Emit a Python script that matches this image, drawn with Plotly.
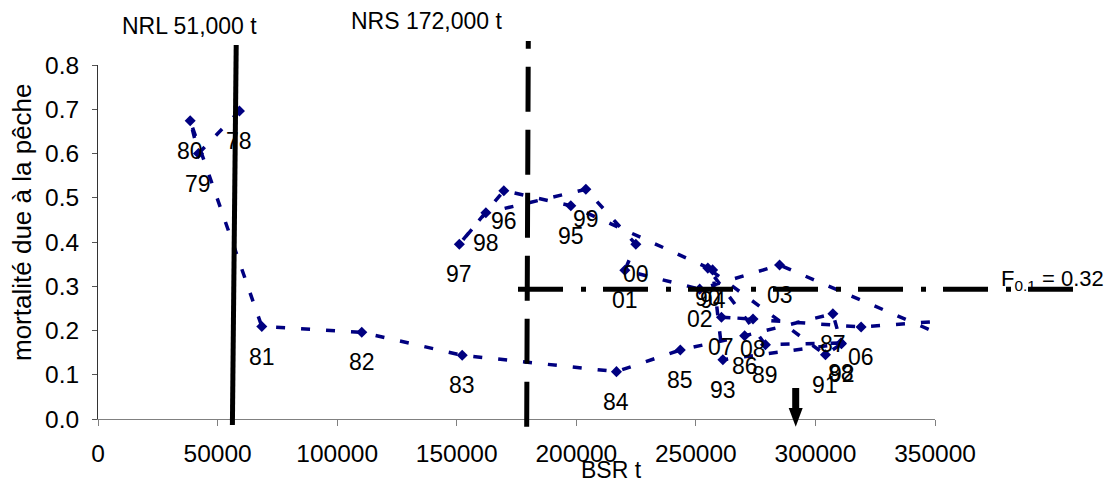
import plotly.graph_objects as go

# ---- data ----
years = ["78", "79", "80", "81", "82", "83", "84", "85", "86", "87", "88",
         "89", "90", "91", "92", "93", "94", "95", "96", "97", "98", "99",
         "00", "01", "02", "03", "04", "05", "06", "07", "08"]
bsr = [59150, 42000, 38550, 68500, 110300, 152300, 216800, 243500, 270400,
       307300, 310700, 279100, 255000, 304200, 310900, 261300, 257000,
       197700, 169700, 151100, 162200, 204000, 224900, 220300, 251600,
       285000, 370000, 400000, 319100, 260700, 273900]
f_mort = [0.696, 0.600, 0.674, 0.209, 0.196, 0.144, 0.107, 0.156, 0.188,
          0.238, 0.172, 0.168, 0.341, 0.145, 0.170, 0.134, 0.337, 0.482,
          0.516, 0.395, 0.466, 0.519, 0.395, 0.336, 0.2935, 0.348, 0.150,
          0.240, 0.208, 0.230, 0.226]

x_ticks = [0, 50000, 100000, 150000, 200000, 250000, 300000, 350000]
y_ticks = [0.0, 0.1, 0.2, 0.3, 0.4, 0.5, 0.6, 0.7, 0.8]
X_MAX = 350000
Y_MAX = 0.8

# reference lines as drawn on the chart (data units)
NRL_X = (57790, 56200)        # top, bottom
NRL_Y = (0.845, -0.0136)
NRS_X = (179260, 179930)      # bottom, top
NRS_Y = (-0.0174, 0.854)
F01_Y = 0.2931
F01_X = (175630, 407700)
ARROW_X = 291750
ARROW_Y = (0.070, 0.0249, -0.0174)   # shaft top, head base, tip

FONT = "Liberation Sans, Arial, sans-serif"
FS = 23
TICK_FS = 24.5


def px(v):
    return v / X_MAX


def py(v):
    return v / Y_MAX


fig = go.Figure()
fig.add_trace(go.Scatter(
    x=bsr, y=f_mort, mode="lines+markers",
    line=dict(color="#000080", width=3.5, dash="9px,16px"),
    marker=dict(symbol="diamond", size=8.5, color="#000080"),
    hoverinfo="skip", showlegend=False,
))

annotations = []
for yr, xv, yv in zip(years, bsr, f_mort):
    if xv <= X_MAX:
        annotations.append(dict(x=xv, y=yv, xref="x", yref="y", text=yr,
                                showarrow=False, yshift=-30,
                                xanchor="center", yanchor="middle",
                                font=dict(family=FONT, size=FS, color="black")))


def txt(x, y, text, xanchor="center", angle=0, size=FS):
    return dict(x=x, y=y, xref="paper", yref="paper", text=text,
                xanchor=xanchor, yanchor="middle", textangle=angle,
                showarrow=False, font=dict(family=FONT, size=size, color="black"))


annotations += [
    txt(0.1099, 1.110, "NRL 51,000 t"),
    txt(0.3919, 1.1243, "NRS 172,000 t"),
    txt(1.0765, 0.392, "F<sub>0.1</sub> = 0.32", xanchor="left", size=22),
    txt(0.614, -0.1441, "BSR t"),
    txt(-0.0908, 0.5565, "mortalité due à la pêche", angle=-90, size=26),
]

half_w = 7 / 837   # arrow head half-width in paper units (14 px head)
shapes = [
    dict(type="line", xref="paper", yref="paper",
         x0=px(NRL_X[0]), y0=py(NRL_Y[0]), x1=px(NRL_X[1]), y1=py(NRL_Y[1]),
         line=dict(color="black", width=5)),
    dict(type="line", xref="paper", yref="paper",
         x0=px(NRS_X[0]), y0=py(NRS_Y[0]), x1=px(NRS_X[1]), y1=py(NRS_Y[1]),
         line=dict(color="black", width=5, dash="45px,18px")),
    dict(type="line", xref="paper", yref="paper",
         x0=px(F01_X[0]), y0=py(F01_Y), x1=px(F01_X[1]), y1=py(F01_Y),
         line=dict(color="black", width=5, dash="45px,18px,5px,17px")),
    dict(type="line", xref="paper", yref="paper",
         x0=px(ARROW_X), y0=py(ARROW_Y[0]), x1=px(ARROW_X), y1=py(ARROW_Y[1]),
         line=dict(color="black", width=7)),
    dict(type="path", xref="paper", yref="paper",
         path="M {a},{b} L {c},{b} L {d},{e} Z".format(
             a=px(ARROW_X) - half_w, b=py(ARROW_Y[1]),
             c=px(ARROW_X) + half_w, d=px(ARROW_X), e=py(ARROW_Y[2])),
         fillcolor="black", line=dict(color="black", width=0)),
]

fig.update_layout(
    width=1105, height=491,
    margin=dict(l=98, r=170, t=65, b=72, autoexpand=False),
    paper_bgcolor="white", plot_bgcolor="white",
    font=dict(family=FONT, size=FS, color="black"),
    annotations=annotations, shapes=shapes,
    xaxis=dict(range=[0, X_MAX], tickvals=x_ticks,
               ticktext=[str(v) for v in x_ticks],
               showgrid=False, zeroline=False, showline=True,
               linecolor="#808080", linewidth=1, ticks="outside", ticklen=6,
               tickcolor="#808080", ticklabelstandoff=7,
               tickfont=dict(family=FONT, size=TICK_FS)),
    yaxis=dict(range=[0, Y_MAX], tickvals=y_ticks,
               ticktext=["%.1f" % v for v in y_ticks],
               showgrid=False, zeroline=False, showline=True,
               linecolor="#333333", linewidth=1, ticks="outside", ticklen=5,
               tickcolor="#555555", ticklabelstandoff=8,
               tickfont=dict(family=FONT, size=TICK_FS)),
)

fig.write_html("out.html")
